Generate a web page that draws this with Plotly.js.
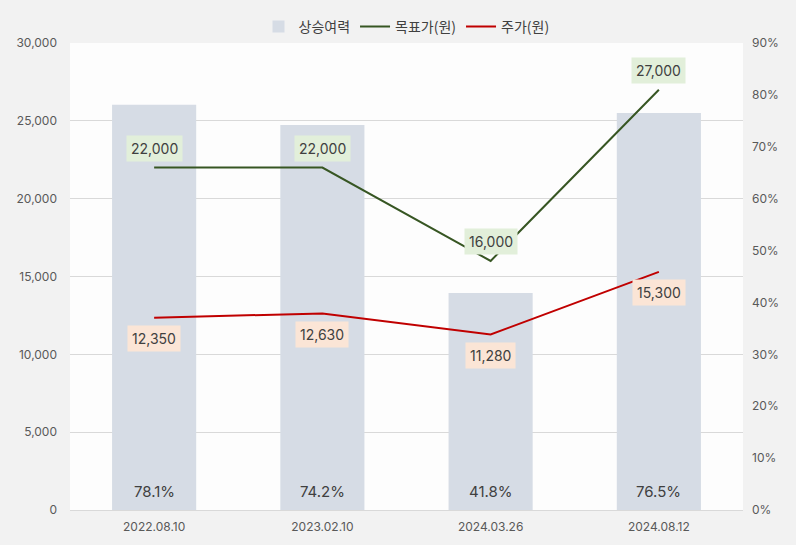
<!DOCTYPE html>
<html>
<head>
<meta charset="utf-8">
<script src="https://cdn.plot.ly/plotly-3.0.1.min.js"></script>
<style>html,body{margin:0;padding:0;background:#f2f2f2;}#chart{width:796px;height:545px;}</style>
</head>
<body>
<div id="chart"></div>
<script>
const dates = ['2022.08.10', '2023.02.10', '2024.03.26', '2024.08.12'];
const upside = [0.781, 0.742, 0.418, 0.765];
const upsideLabels = ['78.1%', '74.2%', '41.8%', '76.5%'];
const targetPrice = [22000, 22000, 16000, 27000];
const stockPrice = [12350, 12630, 11280, 15300];
const leftTicks = [0, 5000, 10000, 15000, 20000, 25000, 30000];

const baseFont = 'Inter, "Noto Sans CJK KR", sans-serif';
const korFont = '"Noto Sans CJK KR", Inter, sans-serif';

// bars on the (bottom) primary axis, displayed on the right; lines on the overlaying axis, displayed on the left
const traces = [
  {
    type: 'bar', name: '상승여력', x: dates, y: upside, yaxis: 'y',
    marker: {color: '#d6dce5'}, width: 0.5, hoverinfo: 'none'
  },
  {
    type: 'scatter', mode: 'lines', name: '목표가(원)', x: dates, y: targetPrice, yaxis: 'y2',
    line: {color: '#375623', width: 2}, hoverinfo: 'none'
  },
  {
    type: 'scatter', mode: 'lines', name: '주가(원)', x: dates, y: stockPrice, yaxis: 'y2',
    line: {color: '#c00000', width: 2}, hoverinfo: 'none'
  }
];

const annotations = [];
dates.forEach((d, i) => {
  annotations.push({
    x: d, y: 0, xref: 'x', yref: 'y', yanchor: 'bottom', yshift: 7,
    text: upsideLabels[i], showarrow: false,
    font: {family: baseFont, size: 15, color: '#404040'}
  });
  annotations.push({
    x: d, y: targetPrice[i], xref: 'x', yref: 'y2', yshift: 19,
    text: targetPrice[i].toLocaleString('en-US'), showarrow: false,
    bgcolor: '#e2efda', borderpad: 4,
    font: {family: baseFont, size: 14, color: '#404040'}
  });
  annotations.push({
    x: d, y: stockPrice[i], xref: 'x', yref: 'y2', yshift: -21,
    text: stockPrice[i].toLocaleString('en-US'), showarrow: false,
    bgcolor: '#fbe5d6', borderpad: 4,
    font: {family: baseFont, size: 14, color: '#404040'}
  });
});

const layout = {
  width: 796, height: 545,
  paper_bgcolor: '#f2f2f2', plot_bgcolor: '#fdfdfd',
  margin: {l: 70, r: 53, t: 43, b: 35, autoexpand: false},
  showlegend: true,
  legend: {orientation: 'h', x: 0.5, xanchor: 'center', y: 1.0, yanchor: 'bottom',
    font: {family: korFont, size: 14, color: '#404040'}, bgcolor: 'rgba(0,0,0,0)', traceorder: 'normal',
    itemwidth: 30},
  xaxis: {
    type: 'category', showgrid: false, showline: true, linecolor: '#d9d9d9', linewidth: 1,
    ticks: '', ticklabelstandoff: 6, tickfont: {family: baseFont, size: 12, color: '#595959'}, fixedrange: true
  },
  yaxis: {
    side: 'right', range: [0, 0.9], dtick: 0.1, tickformat: '.0%',
    showgrid: false, zeroline: false, ticks: '', ticklabelstandoff: 8,
    tickfont: {family: baseFont, size: 12, color: '#595959'}, fixedrange: true
  },
  yaxis2: {
    overlaying: 'y', side: 'left', range: [0, 30000], tickvals: leftTicks, tickformat: ',',
    showgrid: true, gridcolor: '#d9d9d9', zeroline: false, ticks: '', ticklabelstandoff: 12,
    tickfont: {family: baseFont, size: 12, color: '#595959'}, fixedrange: true
  },
  annotations: annotations
};

Plotly.newPlot('chart', traces, layout, {displayModeBar: false, staticPlot: true});
</script>
</body>
</html>
